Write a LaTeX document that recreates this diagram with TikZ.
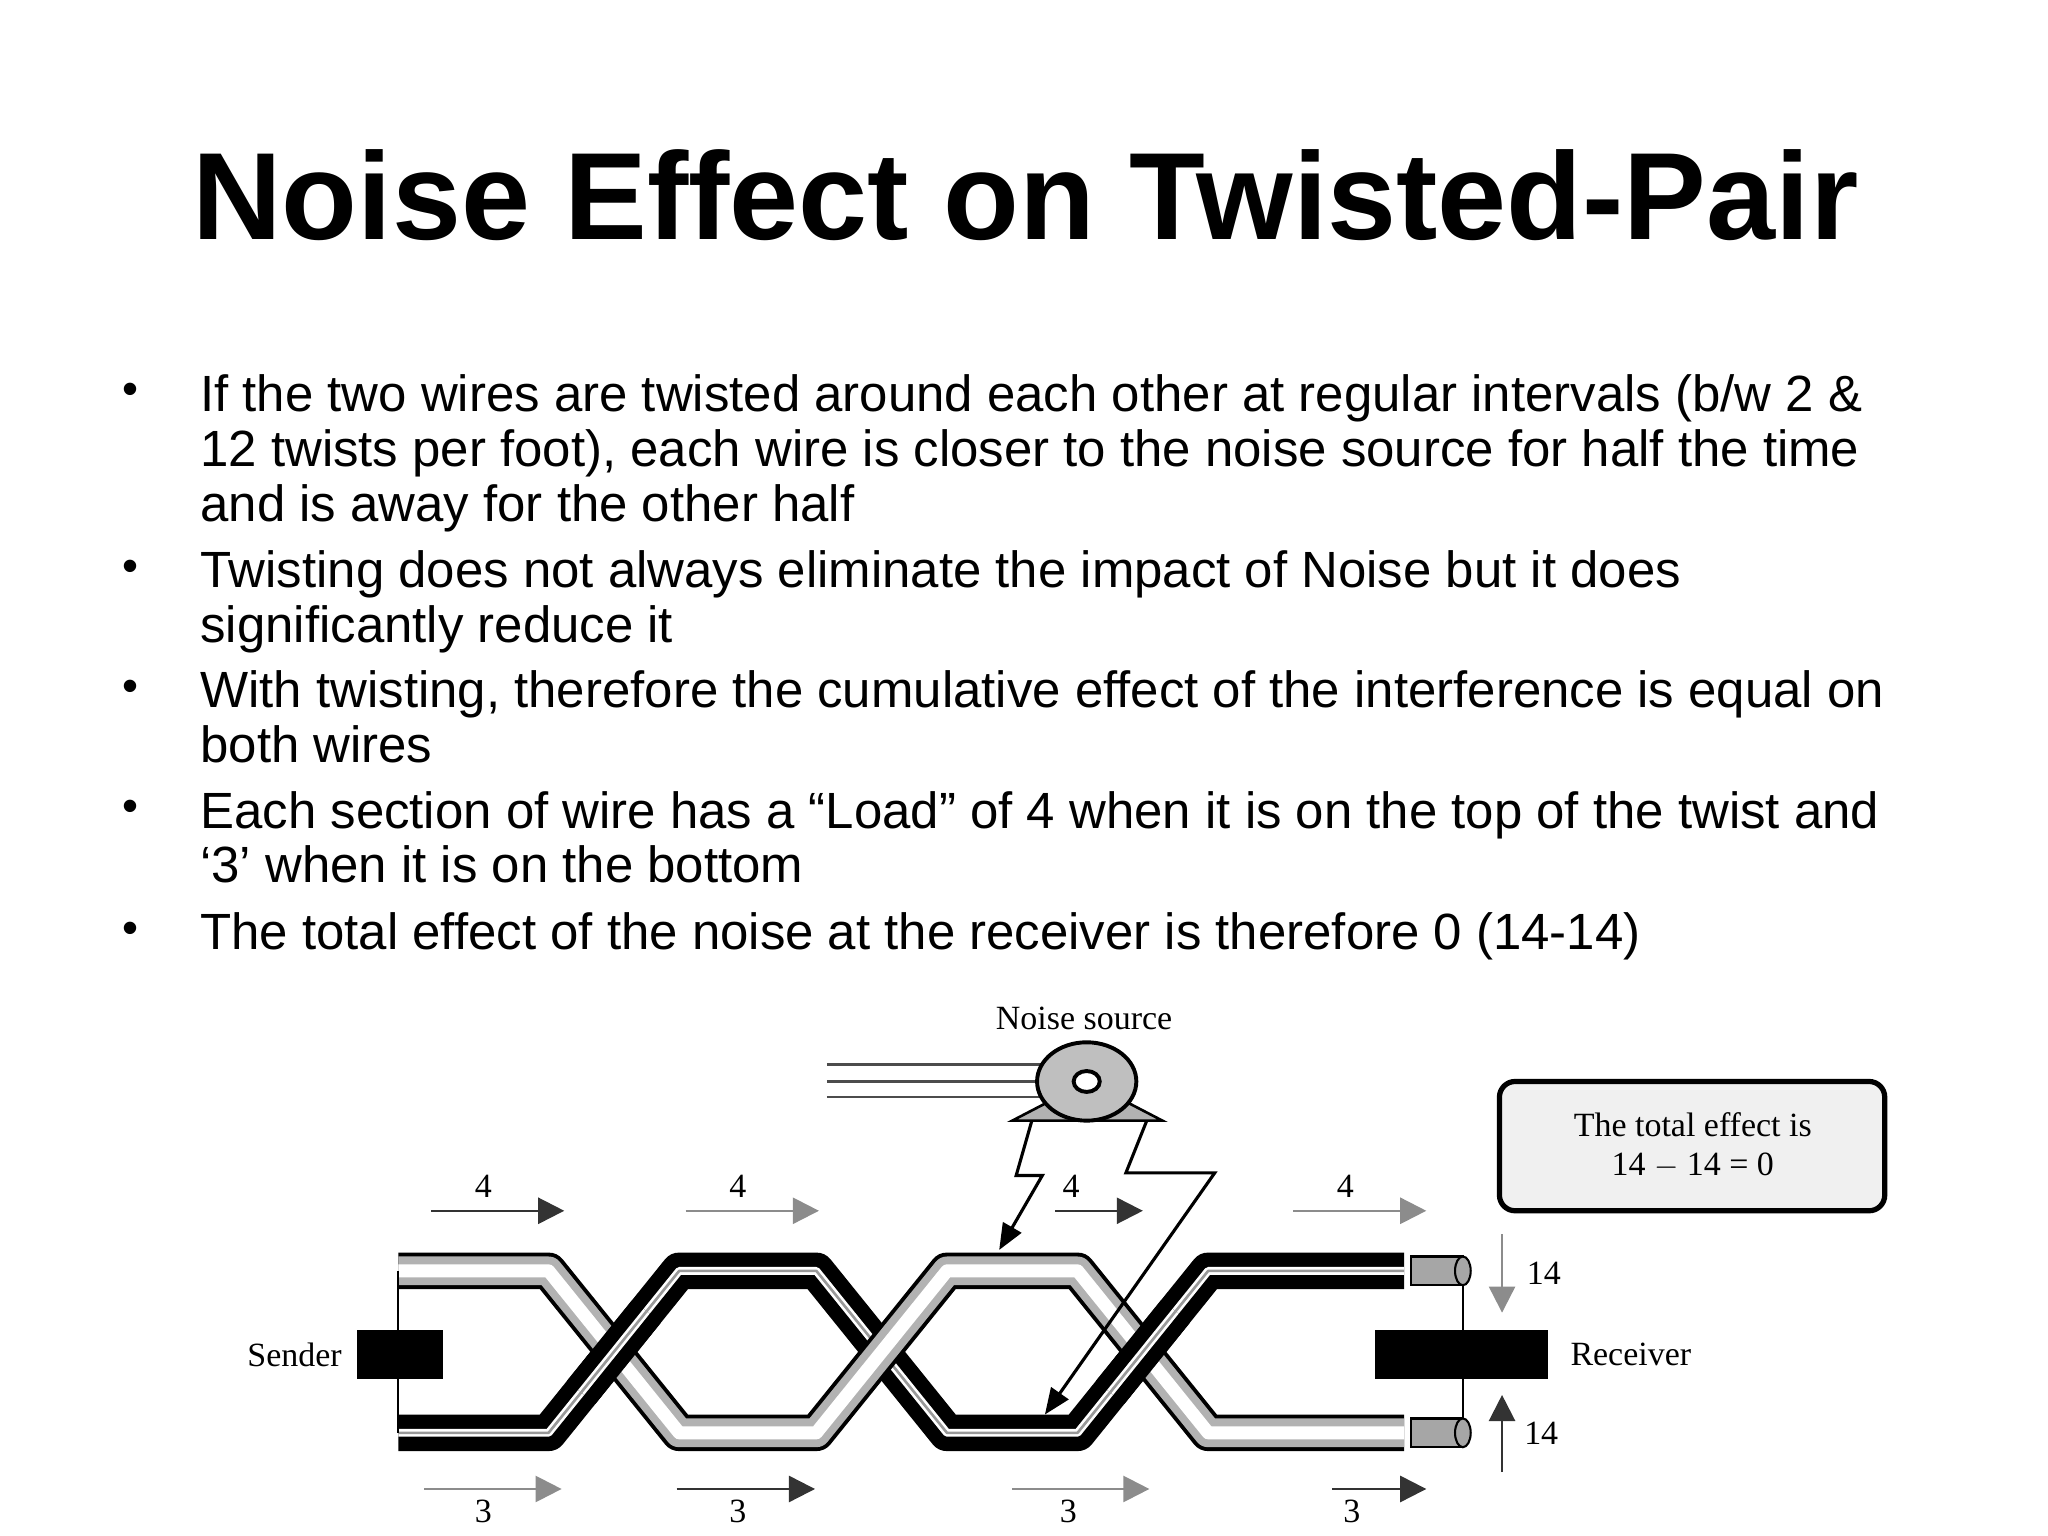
\documentclass[tikz,border=0pt]{standalone}
\usepackage{fontspec}
\setmainfont{Liberation Sans}
\newfontfamily\serifdg{Liberation Serif}
\usetikzlibrary{arrows.meta}
\begin{document}
\begin{tikzpicture}[x=0.5pt,y=-0.5pt,
  btxt/.style={anchor=base west,font=\fontsize{19.5}{21}\selectfont,inner sep=0},
  bul/.style={anchor=base,font=\fontsize{17.5}{21}\selectfont,inner sep=0},
  dlab/.style={font=\serifdg\fontsize{13}{13}\selectfont,inner sep=1pt},
  arrD/.style={line width=0.9pt,black!80,-{Triangle[length=10pt,width=10pt]}},
  arrG/.style={line width=0.9pt,black!45,-{Triangle[length=10pt,width=10pt]}},
  wireAo/.style={line width=14pt,black,line join=round},
  wireAi/.style={line width=11pt,black!30,line join=round},
  wireAc/.style={line width=5pt,white,line join=round},
  wireBo/.style={line width=14pt,black,line join=round},
  wireBi/.style={line width=3pt,white,line join=round},
  wireBc/.style={line width=1pt,black!40,line join=round}]
\useasboundingbox (0,0) rectangle (1568,1176);
\node[anchor=base,font=\bfseries\fontsize{47.5}{56}\selectfont,inner sep=0] (title) at (785,183) {Noise Effect on Twisted-Pair};
\foreach \y in {315,450,542,634,727} \node[bul] at (100,\y-5) {\textbullet};
\node[btxt] (b1a) at (153,315) {If the two wires are twisted around each other at regular intervals (b/w 2 \&};
\node[btxt] (b1b) at (153,357) {12 twists per foot), each wire is closer to the noise source for half the time};
\node[btxt] (b1c) at (153,399) {and is away for the other half};
\node[btxt] (b2a) at (153,450) {Twisting does not always eliminate the impact of Noise but it does};
\node[btxt] (b2b) at (153,492) {significantly reduce it};
\node[btxt] (b3a) at (153,542) {With twisting, therefore the cumulative effect of the interference is equal on};
\node[btxt] (b3b) at (153,584) {both wires};
\node[btxt] (b4a) at (153,634) {Each section of wire has a “Load” of 4 when it is on the top of the twist and};
\node[btxt] (b4b) at (153,676) {‘3’ when it is on the bottom};
\node[btxt] (b5) at (153,727) {The total effect of the noise at the receiver is therefore 0 (14-14)};
% noise source
\node[dlab] (ns) at (830,780) {Noise source};
\foreach \y in {815,828,840} \draw[black!70,line width=1pt] (633,\y) -- (800,\y);
\draw[line width=1pt,fill=black!30] (775,858) -- (800,845) -- (865,845) -- (890,858) -- cycle;
\draw[line width=1.5pt,fill=black!25] (832,828) ellipse (38 and 30);
\draw[line width=1.5pt,fill=white] (832,828) ellipse (10 and 8);
% bolts
\coordinate (bl1) at (790,858); \coordinate (bl2) at (778,900); \coordinate (bl3) at (798,900); \coordinate (bl4) at (765,957);
\draw[line width=1.2pt,-{Triangle[length=10pt,width=8pt]}] (bl1) -- (bl2) -- (bl3) -- (bl4);
\coordinate (br1) at (878,858); \coordinate (br2) at (862,898); \coordinate (br3) at (930,898); \coordinate (br4) at (800,1083);
% wires
\def\T{973} \def\B{1097}
\def\pathA{(305,\T) -- (420,\T) -- (520,\B) -- (625,\B) -- (725,\T) -- (825,\T) -- (925,\B) -- (1075,\B)}
\def\pathB{(305,\B) -- (420,\B) -- (520,\T) -- (625,\T) -- (725,\B) -- (825,\B) -- (925,\T) -- (1075,\T)}
\draw[wireBo] \pathB; \draw[wireBi] \pathB; \draw[wireBc] \pathB;
\draw[wireAo] \pathA; \draw[wireAi] \pathA; \draw[wireAc] \pathA;
\foreach \s in {wireBo,wireBi,wireBc} {
  \draw[\s] (445,1066) -- (495,1004);
  \draw[\s] (850,1066) -- (900,1004);
}
\draw[line width=1.2pt,-{Triangle[length=10pt,width=8pt]}] (br1) -- (br2) -- (br3) -- (br4);
% sender / receiver
\draw[line width=0.8pt] (305,\T) -- (305,\B);
\node[fill=black,minimum width=33pt,minimum height=19pt,inner sep=0] (snd) at (306,1037) {};
\node[dlab,anchor=east] (sl) at (264,1037) {Sender};
\draw[line width=0.8pt] (1120,\T) -- (1120,\B);
\foreach \y in {\T,\B} {
  \draw[line width=0.8pt,fill=black!35] (1080,\y-11) rectangle (1120,\y+11);
  \draw[line width=0.8pt,fill=black!35] (1120,\y) ellipse (6 and 11);
}
\node[fill=black,minimum width=66pt,minimum height=19pt,inner sep=0] (rcv) at (1119,1037) {};
\node[dlab,anchor=west] (rl) at (1200,1037) {Receiver};
\draw[arrG] (1150,945) -- (1150,1005); \node[dlab] at (1182,975) {14};
\draw[arrD] (1150,1127) -- (1150,1068); \node[dlab] at (1180,1097) {14};
% load arrows
\draw[arrD] (330,927) -- (432,927); \node[dlab] at (370,908) {4};
\draw[arrG] (525,927) -- (627,927); \node[dlab] at (565,908) {4};
\draw[arrD] (808,927) -- (875,927); \node[dlab] at (820,908) {4};
\draw[arrG] (990,927) -- (1092,927); \node[dlab] at (1030,908) {4};
\draw[arrG] (325,1140) -- (430,1140); \node[dlab] at (370,1157) {3};
\draw[arrD] (518,1140) -- (624,1140); \node[dlab] at (565,1157) {3};
\draw[arrG] (775,1140) -- (880,1140); \node[dlab] at (818,1157) {3};
\draw[arrD] (1020,1140) -- (1092,1140); \node[dlab] at (1035,1157) {3};
% box
\draw[line width=2pt,rounded corners=6pt,fill=black!6] (1148,828) rectangle (1443,927);
\node[dlab,align=center] (tot) at (1296,877) {The total effect is\\[2pt]14 $-$ 14 = 0};
\end{tikzpicture}
\end{document}
